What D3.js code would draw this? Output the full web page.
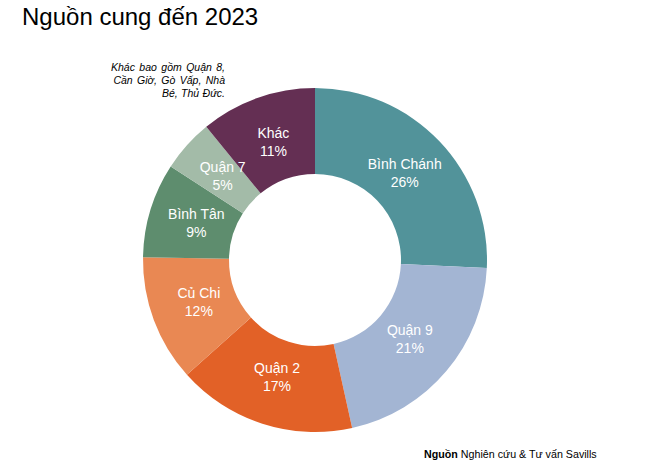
<!DOCTYPE html>
<html><head><meta charset="utf-8">
<script src="https://cdn.jsdelivr.net/npm/d3@7"></script>
<style>body{margin:0;background:#fff;} text{font-family:"Liberation Sans",Arial,sans-serif;}</style>
</head><body>
<svg id="c" width="650" height="471"></svg>
<script>
const categories = ["Bình Chánh","Quận 9","Quận 2","Củ Chi","Bình Tân","Quận 7","Khác"];
const values = [26,21,17,12,9,5,11];
const colors = ["#52939A","#A3B5D3","#E26127","#E98853","#5E8D6E","#A3BBA8","#642F53"];
const noteLines = ["Khác bao gồm Quận 8,","Cần Giờ, Gò Vấp, Nhà","Bé, Thủ Đức."];

const svg = d3.select("#c");
svg.append("text").attr("x",22).attr("y",25).attr("font-size",24).attr("fill","#000").text("Nguồn cung đến 2023");

const cx=315, cy=260, R=172, r0=86;
const g = svg.append("g").attr("transform",`translate(${cx},${cy})`);
const data = categories.map((c,i)=>({name:c,value:values[i],color:colors[i]}));
const pie = d3.pie().sort(null).value(d=>d.value);
const arcs = pie(data);
const arc = d3.arc().innerRadius(r0).outerRadius(R);
g.selectAll("path").data(arcs).join("path").attr("d",arc).attr("fill",d=>d.data.color);
const lab = d3.arc().innerRadius(124).outerRadius(124);
const lg = g.selectAll("g.l").data(arcs).join("g").attr("class","l")
  .attr("transform",d=>`translate(${lab.centroid(d)})`);
lg.append("text").attr("text-anchor","middle").attr("y",-5).attr("font-size",14).attr("fill","#fff").text(d=>d.data.name);
lg.append("text").attr("text-anchor","middle").attr("y",13).attr("font-size",14).attr("fill","#fff").text(d=>d.data.value+"%");

svg.append("g").selectAll("text").data(noteLines).join("text")
  .attr("x",225).attr("y",(d,i)=>71+i*13).attr("text-anchor","end")
  .attr("font-size",10.5).attr("font-style","italic").attr("word-spacing",(d,i)=>i<2?1.5:0.5).attr("fill","#000").text(d=>d);

const src = svg.append("text").attr("x",424).attr("y",458).attr("font-size",10.7).attr("fill","#000");
src.append("tspan").attr("font-weight","bold").text("Nguồn");
src.append("tspan").text(" Nghiên cứu & Tư vấn Savills");
</script>
</body></html>
